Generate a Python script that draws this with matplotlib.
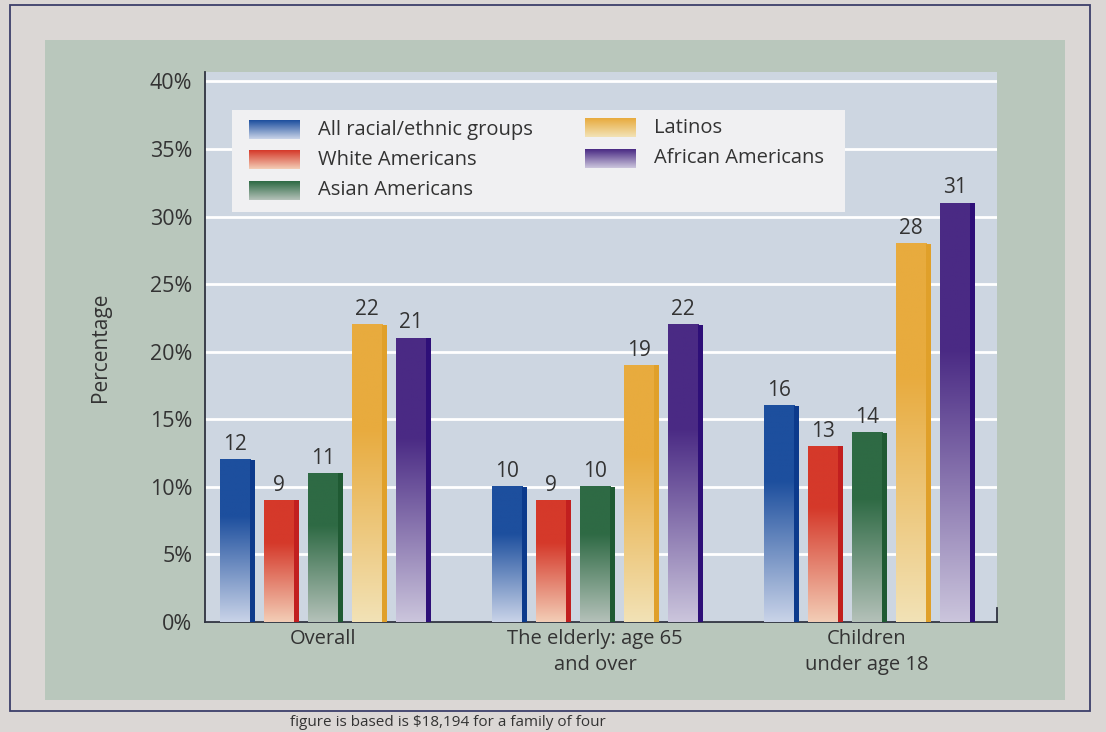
import numpy as np
import matplotlib
matplotlib.use("Agg")
import matplotlib.pyplot as plt
from matplotlib.patches import Rectangle
from matplotlib.colors import LinearSegmentedColormap

# ---- data ----
groups = ["Overall", "The elderly: age 65\nand over", "Children\nunder age 18"]
series = ["All racial/ethnic groups", "White Americans", "Asian Americans",
          "Latinos", "African Americans"]
all_groups = [12, 10, 16]
white_am = [9, 9, 13]
asian_am = [11, 10, 14]
latinos = [22, 19, 28]
african_am = [21, 22, 31]
values = [all_groups, white_am, asian_am, latinos, african_am]
yticks = [0, 5, 10, 15, 20, 25, 30, 35, 40]

top_colors = ["#1d4f9e", "#d5392a", "#2e6a44", "#e8ab3e", "#4a2a84"]
pale_colors = ["#c9d3e8", "#f3cdb6", "#b4c1b9", "#f2e2b6", "#cbc5dc"]
side_colors = ["#0c3a8c", "#c21f1f", "#1f5a33", "#e0a02a", "#2e0f78"]

FONT = "Open Sans"
TXT = "#333333"

W, H = 1106, 732
fig = plt.figure(figsize=(W / 100, H / 100), dpi=100)
fig.patch.set_facecolor("#dbd7d5")

# green panel and border
fig.patches.append(Rectangle((45 / W, 1 - 700 / H), (1065 - 45) / W, (700 - 40) / H,
                             transform=fig.transFigure, facecolor="#b9c7bc",
                             edgecolor="none", zorder=-2))
fig.patches.append(Rectangle((10 / W, 1 - 711 / H), (1090 - 10) / W, (711 - 5) / H,
                             transform=fig.transFigure, facecolor="none",
                             edgecolor="#3c3f6a", lw=1.3, zorder=-1))

ax = fig.add_axes([205 / W, 1 - 622 / H, (997 - 205) / W, (622 - 72) / H])
ax.set_zorder(1)
ax.set_facecolor("#cdd6e1")

n = len(series)
spacing = 0.162
width = 0.112
side_w = 0.017
grad = np.linspace(0, 1, 256).reshape(-1, 1)
for i, (vals, tc, pc, sc) in enumerate(zip(values, top_colors, pale_colors, side_colors)):
    cmap = LinearSegmentedColormap.from_list(f"c{i}", [(0, pc), (0.65, tc), (1, tc)])
    for g, v in enumerate(vals):
        xc = g + (i - (n - 1) / 2) * spacing
        x0 = xc - width / 2
        ax.imshow(grad, extent=[x0, x0 + width, 0, v], origin="lower",
                  cmap=cmap, aspect="auto", zorder=3)
        ax.bar(x0 + width, v, width=side_w, align="edge", color=sc, zorder=3)
        ax.text(xc, v + 0.35, f"{v}", ha="center", va="bottom", fontsize=15,
                family=FONT, color=TXT, zorder=4)

ax.set_xlim(-0.434, 2.478)
ax.set_ylim(0, 40.7)
ax.set_yticks(yticks)
ax.set_yticklabels([f"{t}%" for t in yticks], fontsize=15.5, family=FONT, color=TXT)
ax.set_xticks(range(len(groups)))
ax.set_xticklabels(groups, fontsize=14.5, family=FONT, color=TXT, linespacing=1.4)
ax.tick_params(axis="both", length=0)
ax.tick_params(axis="y", pad=9)
ax.tick_params(axis="x", pad=5)
ax.yaxis.grid(True, color="white", lw=2.0)
ax.set_axisbelow(True)
ax.spines["top"].set_visible(False)
ax.spines["right"].set_bounds(0, 1.0)
for s in ["left", "bottom", "right"]:
    ax.spines[s].set_color("#2f3340")
    ax.spines[s].set_linewidth(1.3)
ax.set_ylabel("Percentage", fontsize=15, family=FONT, color=TXT, labelpad=28)

# legend (manual)
ax.add_patch(Rectangle((0.034, 0.745), 0.774, 0.186, transform=ax.transAxes,
                       facecolor="#f0f0f2", edgecolor="none", zorder=5))
leg_pos = [(0.0556, 0.8945), (0.0556, 0.840), (0.0556, 0.785),
           (0.480, 0.898), (0.480, 0.843)]
pw, ph = 0.064, 0.034
lg = np.linspace(0, 1, 64).reshape(-1, 1)
for i, ((lx, ly), lab) in enumerate(zip(leg_pos, series)):
    cmap = LinearSegmentedColormap.from_list(f"l{i}", [pale_colors[i], top_colors[i]])
    ax.imshow(lg, extent=[lx, lx + pw, ly - ph / 2, ly + ph / 2], origin="lower",
              cmap=cmap, aspect="auto", transform=ax.transAxes, zorder=6)
    ax.text(lx + pw + 0.023, ly, lab, transform=ax.transAxes, ha="left",
            va="center", fontsize=14.5, family=FONT, color=TXT, zorder=6)

ax.set_xlim(-0.434, 2.478)
ax.set_ylim(0, 40.7)

fig.text(290 / W, 1 - 730 / H, "figure is based is $18,194 for a family of four",
         ha="left", va="bottom", fontsize=11, family=FONT, color=TXT)

fig.savefig("out.png", dpi=100, facecolor=fig.get_facecolor())
